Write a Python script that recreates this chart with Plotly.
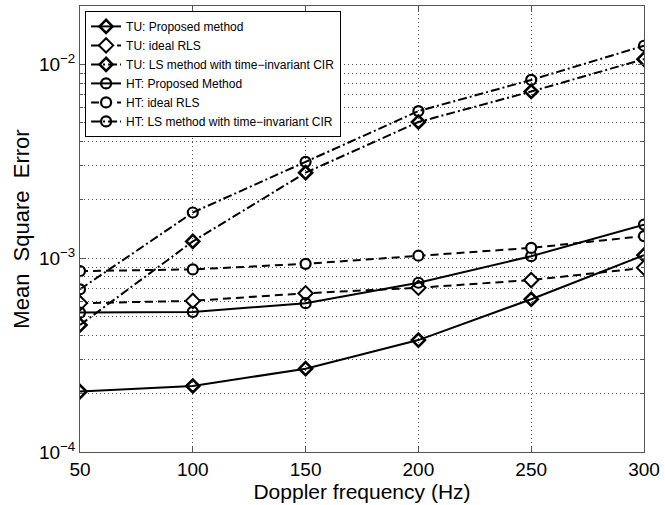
import plotly.graph_objects as go

doppler = [50, 100, 150, 200, 250, 300]

tu_proposed = [2.05e-4, 2.19e-4, 2.69e-4, 3.78e-4, 6.14e-4, 1.036e-3]
tu_ideal_rls = [5.86e-4, 6.02e-4, 6.59e-4, 7.04e-4, 7.71e-4, 8.92e-4]
tu_ls_invariant = [4.52e-4, 1.22e-3, 2.76e-3, 5.04e-3, 7.24e-3, 1.064e-2]
ht_proposed = [5.24e-4, 5.28e-4, 5.86e-4, 7.47e-4, 1.024e-3, 1.49e-3]
ht_ideal_rls = [8.58e-4, 8.75e-4, 9.35e-4, 1.03e-3, 1.13e-3, 1.30e-3]
ht_ls_invariant = [6.91e-4, 1.72e-3, 3.14e-3, 5.74e-3, 8.31e-3, 1.247e-2]

series_names = [
    "TU: Proposed method",
    "TU: ideal RLS",
    "TU: LS method with time\u2212invariant CIR",
    "HT: Proposed Method",
    "HT: ideal RLS",
    "HT: LS method with time\u2212invariant CIR",
]

x_tick_vals = [50, 100, 150, 200, 250, 300]
y_tick_vals = [1e-4, 1e-3, 1e-2]
y_tick_text = ["10<sup>\u22124</sup>", "10<sup>\u22123</sup>", "10<sup>\u22122</sup>"]
y_minor_vals = [m * 10.0 ** e for e in (-4, -3) for m in range(2, 10)] + [2e-2]

DASH = "8px,5px"
DASHDOT = "9px,3px,2px,3px"
GRIDDOT = "1px,3px"
FONT = "Liberation Sans, Arial, sans-serif"

styles = [
    dict(dash="solid", symbol="diamond-open", fill="black", size=10, mlw=2.6),
    dict(dash=DASH, symbol="diamond", fill="white", size=11, mlw=2.0),
    dict(dash=DASHDOT, symbol="diamond-open", fill="black", size=10, mlw=2.6),
    dict(dash="solid", symbol="circle-open", fill="black", size=10, mlw=2.2),
    dict(dash=DASH, symbol="circle", fill="white", size=10, mlw=2.2),
    dict(dash=DASHDOT, symbol="circle-open", fill="black", size=10, mlw=2.2),
]
data = [tu_proposed, tu_ideal_rls, tu_ls_invariant, ht_proposed, ht_ideal_rls, ht_ls_invariant]

fig = go.Figure()
for name, ys, st in zip(series_names, data, styles):
    fig.add_trace(go.Scatter(
        x=doppler, y=ys, name=name, mode="lines+markers",
        line=dict(color="black", width=2, dash=st["dash"]),
        marker=dict(symbol=st["symbol"], size=st["size"], color=st["fill"],
                    line=dict(color="black", width=st["mlw"])),
    ))

axis_common = dict(
    showline=True, linecolor="#555555", linewidth=1, mirror="ticks",
    ticks="inside", tickcolor="#555555", ticklen=6,
    showgrid=True, gridcolor="#555555", gridwidth=1, griddash=GRIDDOT,
    zeroline=False,
    tickfont=dict(family=FONT, size=19, color="black"),
)

fig.update_xaxes(
    range=[50, 300], tickvals=x_tick_vals, ticktext=[str(v) for v in x_tick_vals],
    title=dict(text="Doppler frequency (Hz)", standoff=2,
               font=dict(family=FONT, size=21, color="black")),
    **axis_common,
)
fig.update_yaxes(
    type="log", range=[-4, 1.30103 - 3], tickvals=y_tick_vals, ticktext=y_tick_text,
    minor=dict(tickvals=y_minor_vals, ticks="inside", ticklen=3, tickcolor="#555555",
               showgrid=True, gridcolor="#555555", gridwidth=1, griddash=GRIDDOT),
    title=dict(text="Mean\u00a0\u00a0Square\u00a0\u00a0Error", standoff=3,
               font=dict(family=FONT, size=22, color="black")),
    **axis_common,
)

fig.update_layout(
    width=665, height=505,
    margin=dict(l=80, r=18, t=5, b=53),
    paper_bgcolor="white", plot_bgcolor="white",
    font=dict(family=FONT, color="black"),
    showlegend=True,
    legend=dict(
        x=0.009, y=0.989, xanchor="left", yanchor="top",
        bgcolor="white", bordercolor="black", borderwidth=1,
        font=dict(family=FONT, size=12, color="black"),
        itemwidth=30, tracegroupgap=0,
    ),
)

fig.write_html("out.html", config={"displayModeBar": False},
               post_script="document.body.style.margin='0';")
